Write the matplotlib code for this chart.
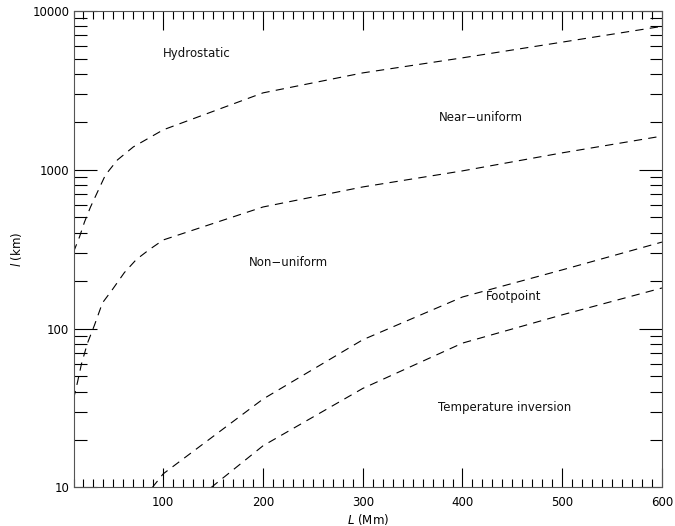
import matplotlib
matplotlib.use('Agg')
import matplotlib.pyplot as plt
from matplotlib.ticker import MultipleLocator, LogLocator, FixedLocator, NullFormatter, FuncFormatter

plt.rcParams['font.family'] = ['DejaVu Sans']
plt.rcParams['lines.scale_dashes'] = False

# Loop length L (Mm) and boundary values of l (km) for each regime border
hydro_L = [10, 16, 21, 27, 34, 42, 54, 70, 100, 200, 300, 400, 500, 600]
hydro_l = [303, 377, 468, 581, 722, 925, 1150, 1390, 1780, 3040, 4060, 5050, 6340, 7970]

near_L = [10, 14, 18, 24, 31, 39, 49, 61, 73, 86, 100, 200, 300, 400, 500, 600]
near_l = [36, 46, 60, 81, 105, 145, 176, 225, 272, 314, 361, 582, 778, 982, 1275, 1625]

foot_L = [89, 100, 200, 300, 400, 500, 600]
foot_l = [10, 12.2, 36, 85, 158, 234, 350]

tinv_L = [148, 200, 300, 400, 500, 600]
tinv_l = [10, 18.3, 42, 81, 122, 180]

regions = ['Hydrostatic', 'Near\u2212uniform', 'Non\u2212uniform', 'Footpoint', 'Temperature inversion']
region_x = [134, 418, 225, 451, 442]
region_y = [5350, 2113, 262, 158, 31.7]

fig = plt.figure(figsize=(6.75, 5.26), dpi=100)
ax = fig.add_axes([0.1089, 0.0732, 0.8718, 0.9065])

for xs, ys in [(hydro_L, hydro_l), (near_L, near_l), (foot_L, foot_l), (tinv_L, tinv_l)]:
    ax.plot(xs, ys, color='black', lw=0.8, dashes=(6, 4.5))

for name, x, y in zip(regions, region_x, region_y):
    ax.text(x, y, name, ha='center', va='center', fontsize=8.5, color='#111111')

ax.set_yscale('log')
ax.set_xlim(10, 600)
ax.set_ylim(10, 10000)

ax.xaxis.set_major_locator(FixedLocator([100, 200, 300, 400, 500, 600]))
ax.xaxis.set_minor_locator(MultipleLocator(10))
ax.yaxis.set_major_locator(LogLocator(base=10))
ax.yaxis.set_minor_locator(LogLocator(base=10, subs=range(2, 10)))
ax.yaxis.set_minor_formatter(NullFormatter())
ax.yaxis.set_major_formatter(FuncFormatter(lambda v, p: '%d' % round(v)))

ax.tick_params(axis='both', which='both', direction='in', top=True, right=True,
               width=0.8, colors='black', labelsize=8.5)
ax.tick_params(axis='x', which='major', length=13.7, pad=6)
ax.tick_params(axis='x', which='minor', length=5.8)
ax.tick_params(axis='y', which='major', length=16.5, pad=3)
ax.tick_params(axis='y', which='minor', length=9)

for sp in ax.spines.values():
    sp.set_linewidth(0.8)
    sp.set_color('#555555')

ax.set_xlabel('$L$ (Mm)', fontsize=8.5, labelpad=2)
ax.set_ylabel('$l$ (km)', fontsize=8.5, labelpad=6)

fig.savefig('out.png', dpi=100)
